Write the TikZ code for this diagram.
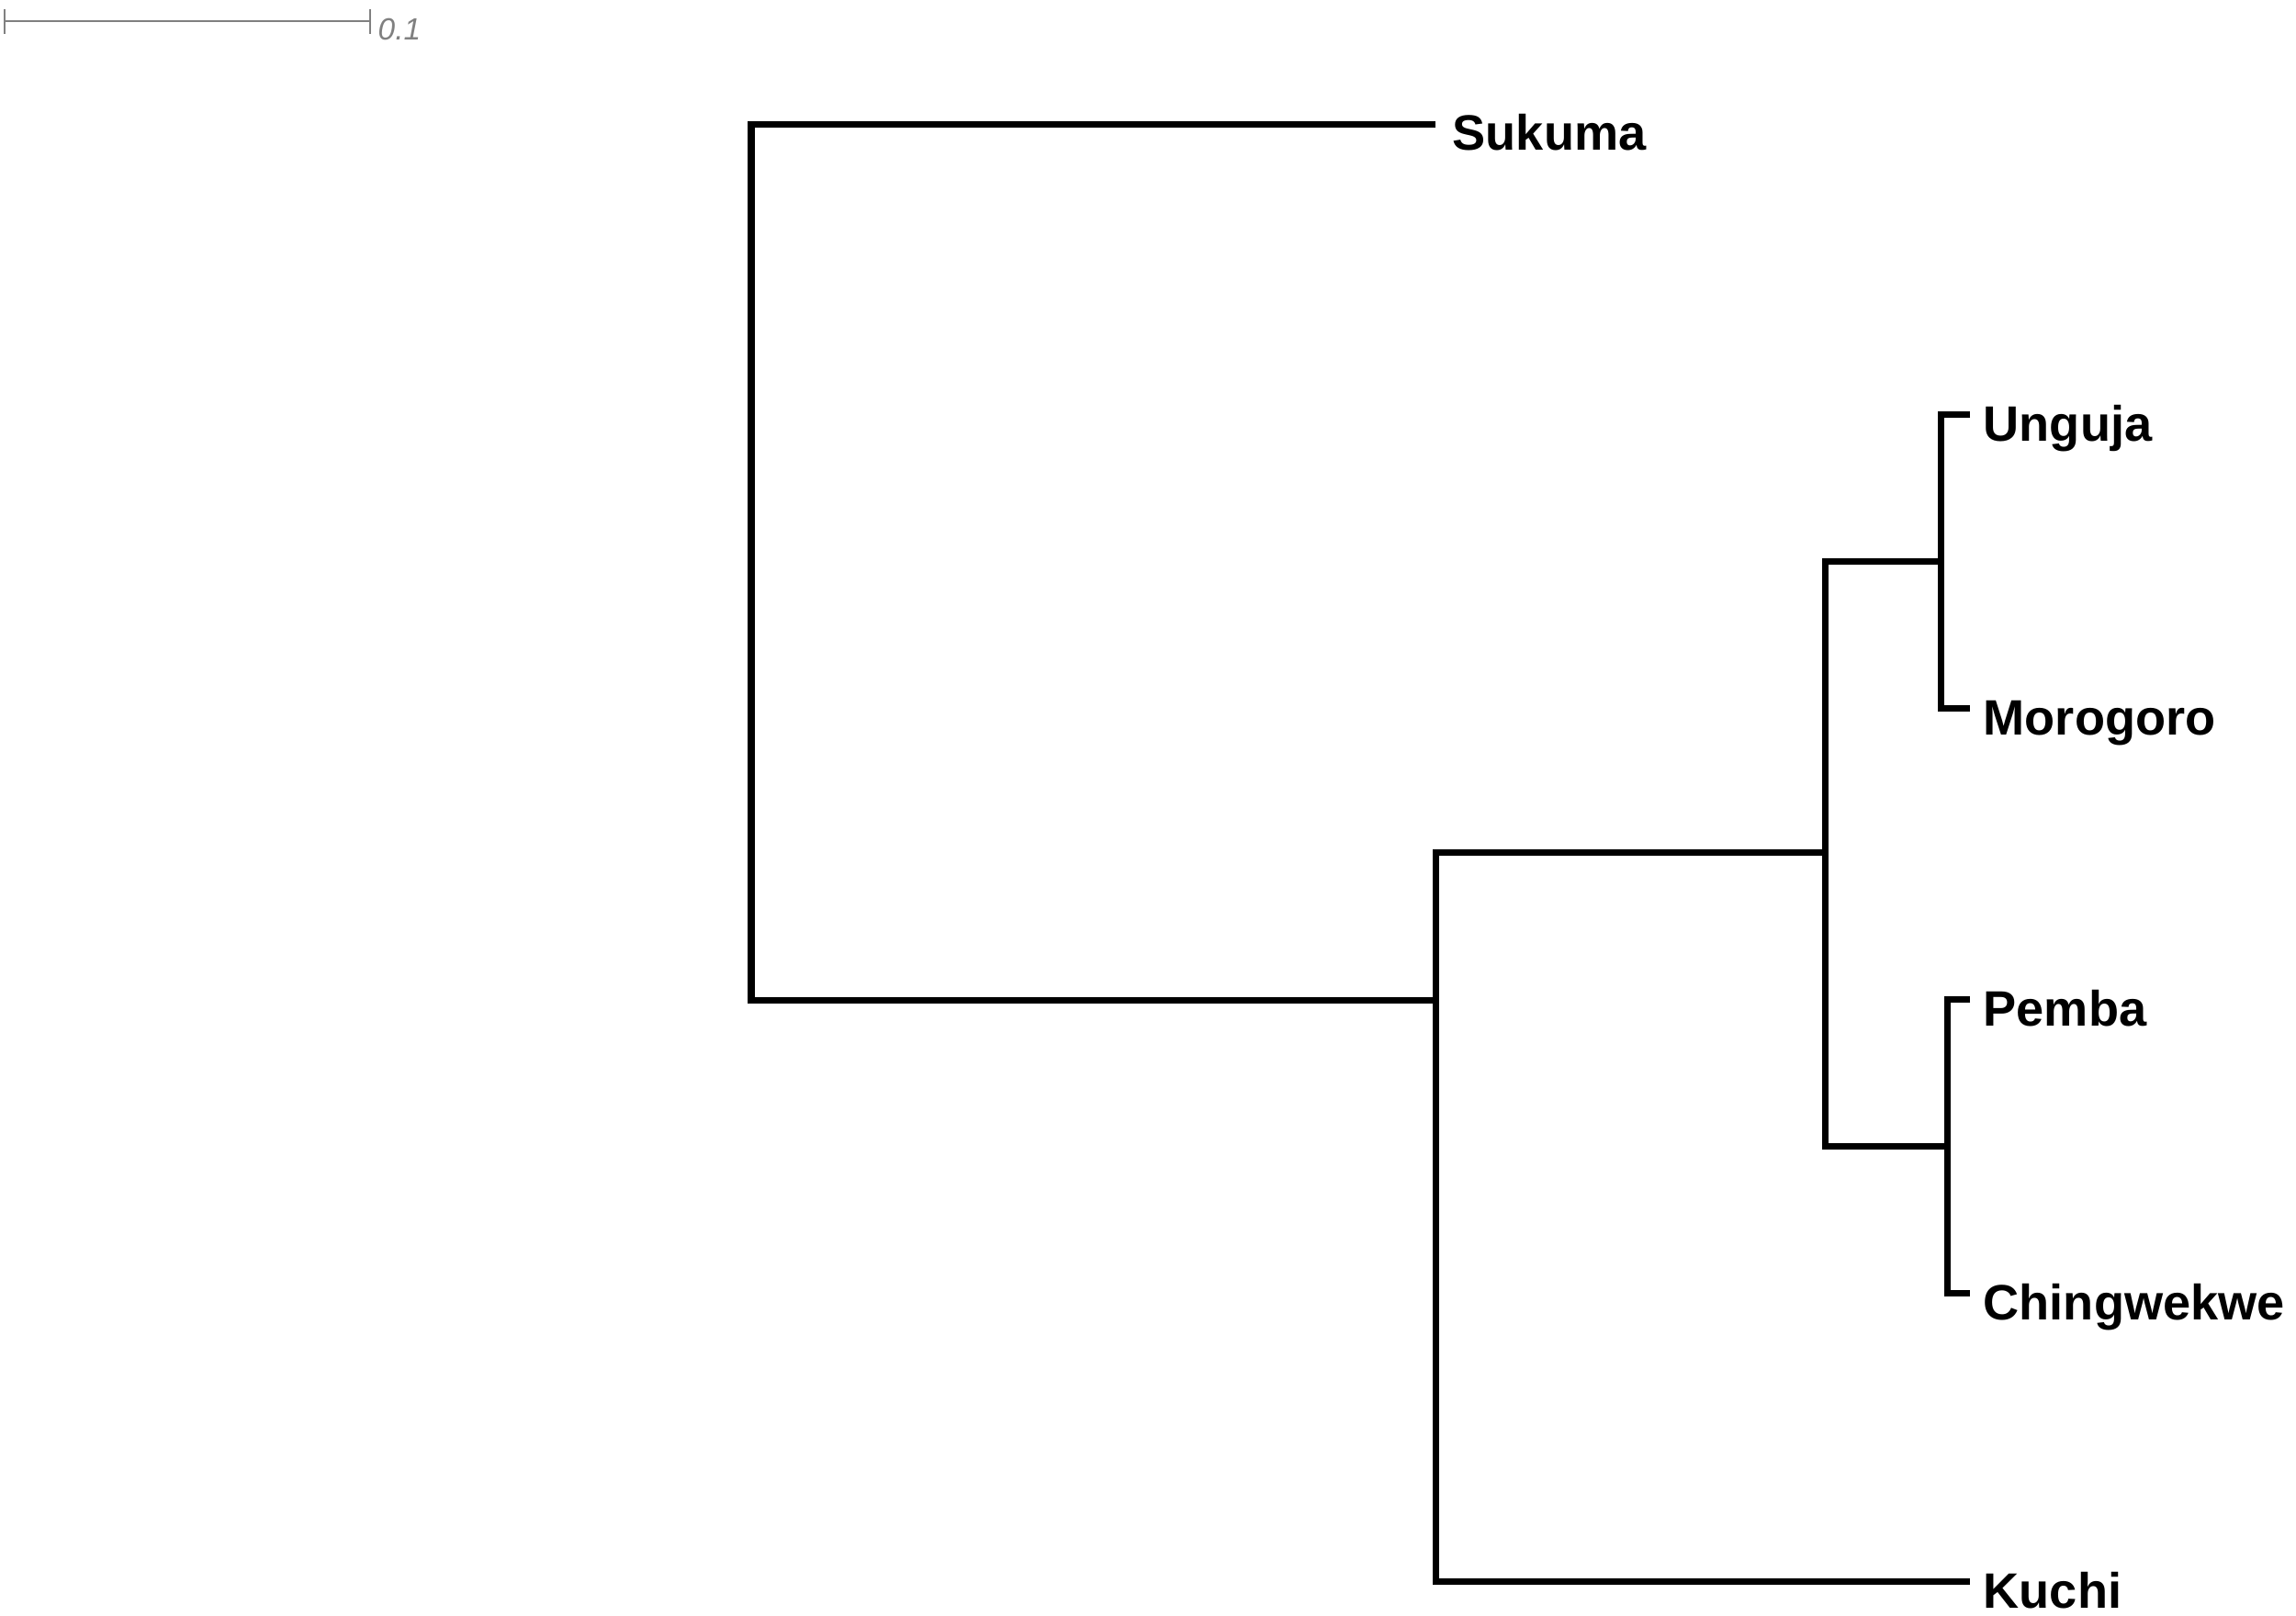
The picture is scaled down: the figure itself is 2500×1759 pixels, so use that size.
\documentclass[tikz,border=0pt]{standalone}
\usepackage{fontspec}
\setmainfont{Liberation Sans}
\begin{document}
\begin{tikzpicture}[x=0.01cm,y=-0.01cm,
  branch/.style={line width=2pt, line join=miter, line cap=butt},
  leaf/.style={anchor=base west, inner sep=0pt, font=\fontsize{15.4}{18}\selectfont\bfseries},
  scalebar/.style={gray, line width=0.7pt},
  scalelabel/.style={anchor=base west, inner sep=0pt, text=gray, font=\fontsize{9.5}{11}\selectfont\itshape}]
\fill[white] (0,0) rectangle (2500,1759);
\useasboundingbox (0,0) rectangle (2500,1759);
% scale bar
\coordinate (sbL) at (5,23);
\coordinate (sbR) at (403,23);
\draw[scalebar] (sbL) -- (sbR);
\draw[scalebar] (5,10) -- (5,37);
\draw[scalebar] (403,10) -- (403,37);
\node[scalelabel] (sblabel) at (411,43) {0.1};
% internal nodes
\coordinate (root) at (818,612);
\coordinate (A) at (1563,1325);
\coordinate (Ah) at (1563,1089);
\coordinate (B) at (1987,928);
\coordinate (C) at (2113,611);
\coordinate (D) at (2120,1248);
% tips
\coordinate (tSukuma) at (1563,135);
\coordinate (tUnguja) at (2145,451);
\coordinate (tMorogoro) at (2145,771);
\coordinate (tPemba) at (2145,1088);
\coordinate (tChing) at (2145,1408);
\coordinate (tKuchi) at (2145,1722);
% labels
\node[leaf] (Sukuma) at (1581,163) {Sukuma};
\node[leaf] (Unguja) at (2159,480) {Unguja};
\node[leaf] (Morogoro) at (2159,800) {Morogoro};
\node[leaf] (Pemba) at (2159,1117) {Pemba};
\node[leaf] (Ching) at (2159,1437) {Chingwekwe};
\node[leaf] (Kuchi) at (2159,1751) {Kuchi};
% branches
\draw[branch] (tSukuma) -| (root) |- (Ah);
\draw[branch] (B) -| (A) |- (tKuchi);
\draw[branch] (C) -| (B) |- (D);
\draw[branch] (tUnguja) -| (C) |- (tMorogoro);
\draw[branch] (tPemba) -| (D) |- (tChing);
\end{tikzpicture}
\end{document}
